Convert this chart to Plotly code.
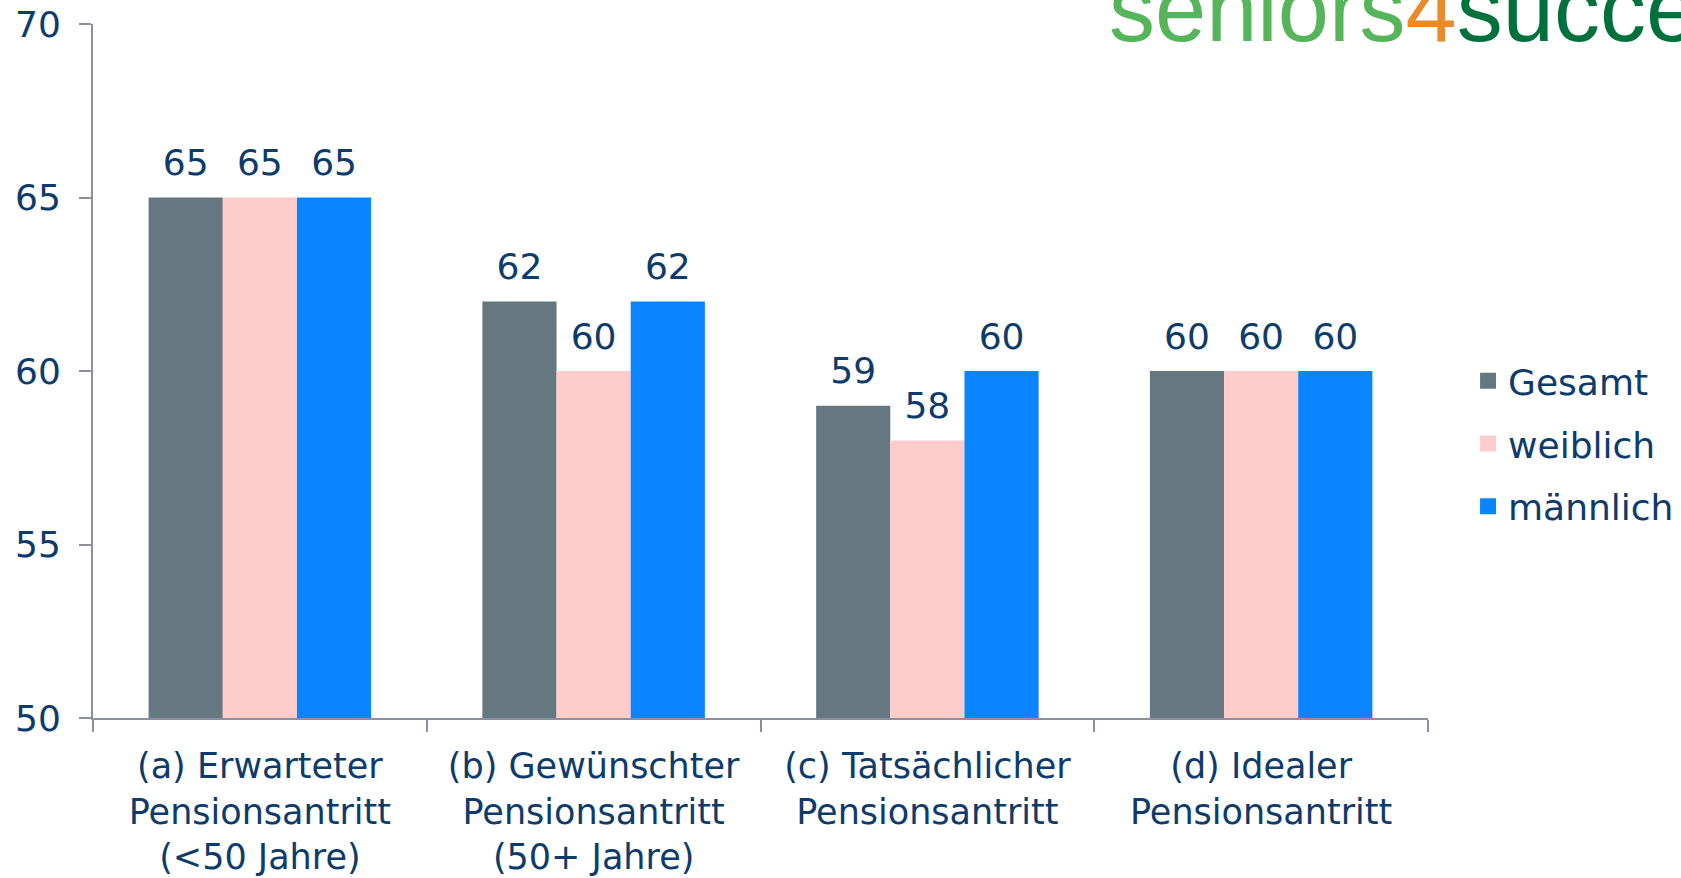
import plotly.graph_objects as go

categories = [
    "(a) Erwarteter<br>Pensionsantritt<br>(<50 Jahre)",
    "(b) Gewünschter<br>Pensionsantritt<br>(50+ Jahre)",
    "(c) Tatsächlicher<br>Pensionsantritt",
    "(d) Idealer<br>Pensionsantritt",
]
series_names = ["Gesamt", "weiblich", "männlich"]
gesamt = [65, 62, 59, 60]
weiblich = [65, 60, 58, 60]
maennlich = [65, 62, 60, 60]
values = [gesamt, weiblich, maennlich]
colors = ["#657880", "#ffcccc", "#0a84ff"]

navy = "#0d3b6b"
axis_gray = "#8c8fa0"
FONT = "DejaVu Sans"
FS = 36

fig = go.Figure()

for name, vals, col in zip(series_names, values, colors):
    fig.add_trace(go.Bar(
        x=categories, y=vals, name=name, marker=dict(color=col, line=dict(width=0)),
        showlegend=False, hoverinfo="x+y",
    ))

# value labels (grouped scatter to align with bars)
for name, vals in zip(series_names, values):
    fig.add_trace(go.Scatter(
        x=categories, y=vals, mode="markers+text", text=[str(v) for v in vals],
        textposition="top center", textfont=dict(family=FONT, size=FS, color=navy),
        marker=dict(size=20, opacity=0), showlegend=False, cliponaxis=False,
        hoverinfo="skip",
    ))

# legend entries on hidden axes
for i, (name, col) in enumerate(zip(series_names, colors)):
    fig.add_trace(go.Scatter(
        x=[None], y=[None], mode="markers", name=name, legendgroup=f"g{i}",
        marker=dict(symbol="square", size=20, color=col),
        xaxis="x2", yaxis="y2",
    ))

fig.update_layout(
    width=1681, height=878,
    margin=dict(l=93, r=253, t=24, b=160, autoexpand=False),
    paper_bgcolor="white", plot_bgcolor="white",
    barmode="group", bargap=1/3, bargroupgap=0,
    scattermode="group", scattergap=1/3,
    font=dict(family=FONT, size=FS, color=navy),
    showlegend=True,
    legend=dict(x=1.03, xanchor="left", y=0.395, yanchor="middle",
                traceorder="grouped", tracegroupgap=13,
                font=dict(family=FONT, size=FS, color=navy),
                bgcolor="rgba(0,0,0,0)"),
    xaxis=dict(
        type="category", showline=True, linecolor=axis_gray, linewidth=2,
        ticks="outside", ticklen=12, tickwidth=2, tickcolor=axis_gray,
        tickson="boundaries", showgrid=False, zeroline=False, automargin=False,
        ticklabelstandoff=16,
        tickfont=dict(family=FONT, size=35, color=navy),
    ),
    yaxis=dict(
        range=[50, 70], dtick=5, tick0=50, showline=True, linecolor=axis_gray,
        linewidth=2, ticks="outside", ticklen=12, tickwidth=2, tickcolor=axis_gray,
        showgrid=False, zeroline=False, ticklabelstandoff=11, automargin=False,
        tickfont=dict(family=FONT, size=FS, color=navy),
    ),
    xaxis2=dict(overlaying="x", visible=False, range=[0, 1]),
    yaxis2=dict(overlaying="y", visible=False, range=[0, 1]),
)

fig.add_annotation(
    xref="paper", yref="paper", x=0.7596, y=1.0216, xanchor="left", yanchor="middle",
    text=("<span style='color:#56b45b'>seniors</span>"
          "<span style='color:#e98a2b'>4</span>"
          "<span style='color:#00713d'>success</span>"),
    showarrow=False, font=dict(family="Liberation Sans", size=92),
)

fig.write_html(
    "out.html",
    config={"displayModeBar": False},
    post_script="document.body.style.margin='0';document.body.style.padding='0';",
)
